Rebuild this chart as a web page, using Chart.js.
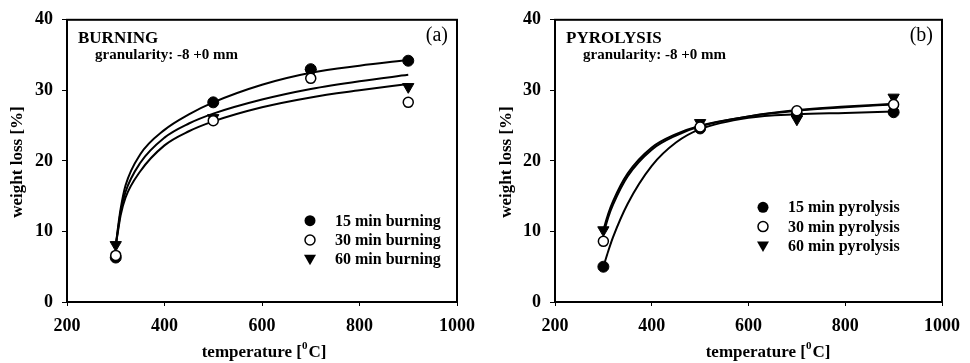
<!DOCTYPE html>
<html>
<head>
<meta charset="utf-8">
<script src="https://cdn.jsdelivr.net/npm/chart.js@4/dist/chart.umd.min.js"></script>
<style>
  body { margin: 0; background: #fff; }
  .wrap { position: relative; width: 970px; height: 363px; }
  canvas { position: absolute; top: 0; }
</style>
</head>
<body>
<div class="wrap">
  <canvas id="burn" width="485" height="363" style="left:0"></canvas>
  <canvas id="pyro" width="485" height="363" style="left:485px"></canvas>
</div>
<script>
// measured points, temperature in degC, weight loss in %
const temps = [300, 500, 700, 900];
const burn15 = [6.3, 28.3, 33.0, 34.2];
const burn30 = [6.6, 25.7, 31.7, 28.3];
const burn60 = [8.1, 26.1, 32.5, 30.5];
const pyro15 = [5.0, 24.6, 26.6, 26.9];
const pyro30 = [8.6, 24.8, 27.1, 28.0];
const pyro60 = [10.2, 25.4, 25.9, 29.0];

// trend curves
const burnFitX = [300, 305, 310, 320, 350, 400, 450, 500, 600, 700, 800, 900];
const burnFit15 = [8.0, 10.8, 13.2, 16.5, 20.9, 24.4, 26.6, 28.3, 30.8, 32.5, 33.5, 34.3];
const burnFit30 = [8.0, 10.5, 12.8, 15.6, 19.7, 23.3, 25.3, 26.7, 28.7, 30.2, 31.3, 32.2];
const burnFit60 = [8.0, 10.2, 12.3, 14.8, 18.5, 22.2, 24.2, 25.6, 27.6, 29.0, 30.0, 30.9];
const pyroFitX = [300, 310, 320, 350, 400, 450, 500, 600, 700, 800, 900];
const pyroFit15 = [5.0, 7.2, 9.2, 13.9, 19.3, 22.6, 24.5, 26.1, 26.6, 26.8, 27.0];
const pyroFit30 = [9.6, 12.0, 13.8, 17.8, 21.6, 23.6, 24.9, 26.3, 27.2, 27.7, 28.1];
const pyroFit60 = [10.2, 12.5, 14.3, 18.2, 21.9, 23.8, 25.0, 26.3, 27.1, 27.6, 28.0];

const xTicks = [200, 400, 600, 800, 1000];
const yTicks = [0, 10, 20, 30, 40];

const FONT = "'Liberation Serif', 'Times New Roman', serif";

function pts(xs, ys) {
  return xs.map((x, i) => ({ x: x, y: ys[i] }));
}

function drawMarker(ctx, kind, x, y) {
  ctx.save();
  ctx.fillStyle = '#000';
  ctx.strokeStyle = '#000';
  if (kind === 'filled') {
    ctx.beginPath(); ctx.arc(x, y, 5.5, 0, Math.PI * 2); ctx.fill();
  } else if (kind === 'open') {
    ctx.lineWidth = 1.5;
    ctx.fillStyle = '#fff';
    ctx.beginPath(); ctx.arc(x, y, 5, 0, Math.PI * 2); ctx.fill(); ctx.stroke();
  } else {
    ctx.beginPath();
    ctx.moveTo(x - 6, y - 4.5); ctx.lineTo(x + 6, y - 4.5); ctx.lineTo(x, y + 6);
    ctx.closePath(); ctx.fill();
  }
  ctx.restore();
}

const panelPlugin = {
  id: 'panel',
  afterDraw(chart, args, o) {
    const ctx = chart.ctx;
    const a = chart.chartArea;
    ctx.save();
    ctx.strokeStyle = '#000';
    ctx.lineWidth = 2;
    ctx.strokeRect(a.left, a.top, a.right - a.left, a.bottom - a.top);

    ctx.fillStyle = '#000';
    ctx.textBaseline = 'alphabetic';
    ctx.textAlign = 'left';
    ctx.font = 'bold 17px ' + FONT;
    ctx.fillText(o.title, a.left + 11, 43);
    ctx.font = 'bold 15px ' + FONT;
    ctx.fillText('granularity: -8 +0 mm', a.left + 28, 59);
    ctx.textAlign = 'right';
    ctx.font = '20px ' + FONT;
    ctx.fillText(o.tag, a.right - 9, 41);

    // legend
    ctx.textAlign = 'left';
    ctx.textBaseline = 'middle';
    ctx.font = 'bold 16px ' + FONT;
    const kinds = ['filled', 'open', 'tri'];
    o.labels.forEach((t, i) => {
      const y = o.legY + i * 19.3;
      drawMarker(ctx, kinds[i], a.left + o.legX, y);
      ctx.fillText(t, a.left + o.legX + 25, y + 1);
    });

    // x title with superscript
    ctx.textBaseline = 'alphabetic';
    ctx.font = 'bold 17px ' + FONT;
    const t1 = 'temperature [', t3 = 'C]';
    const w1 = ctx.measureText(t1).width;
    const w3 = ctx.measureText(t3).width;
    ctx.font = 'bold 11px ' + FONT;
    const w2 = ctx.measureText('0').width + 1;
    let x = o.xTitleX - (w1 + w2 + w3) / 2;
    ctx.font = 'bold 17px ' + FONT;
    ctx.fillText(t1, x, 357);
    ctx.font = 'bold 11px ' + FONT;
    ctx.fillText('0', x + w1, 349);
    ctx.font = 'bold 17px ' + FONT;
    ctx.fillText(t3, x + w1 + w2, 357);

    // y title
    ctx.translate(o.yTitleX, 162);
    ctx.rotate(-Math.PI / 2);
    ctx.textAlign = 'center';
    ctx.textBaseline = 'middle';
    ctx.fillText('weight loss [%]', 0, 0);
    ctx.restore();
  }
};

function makeChart(id, series, fits, fitX, o) {
  const styles = [
    { pointStyle: 'circle', pointRadius: 5.5, pointBackgroundColor: '#000', pointBorderWidth: 1, order: 1 },
    { pointStyle: 'circle', pointRadius: 5, pointBackgroundColor: '#fff', pointBorderWidth: 1.5, order: 0 },
    { pointStyle: 'triangle', pointRotation: 180, pointRadius: 6.5, pointBackgroundColor: '#000', pointBorderWidth: 1, order: 2 }
  ];
  const datasets = [];
  series.forEach((s, i) => {
    datasets.push(Object.assign({
      label: o.labels[i],
      data: pts(temps, s),
      showLine: false,
      pointBorderColor: '#000'
    }, styles[i]));
  });
  fits.forEach(f => {
    datasets.push({
      data: pts(fitX, f),
      showLine: true,
      pointRadius: 0,
      borderColor: '#000',
      borderWidth: 2,
      cubicInterpolationMode: 'monotone',
      fill: false,
      order: 3
    });
  });

  const tickFont = { family: FONT, size: 18, weight: 'bold' };
  return new Chart(document.getElementById(id), {
    type: 'scatter',
    data: { datasets: datasets },
    options: {
      responsive: false,
      animation: false,
      layout: { padding: { top: 17, right: o.padRight, left: 0, bottom: 0 } },
      plugins: {
        legend: { display: false },
        tooltip: { enabled: false },
        panel: o
      },
      scales: {
        x: {
          type: 'linear', min: xTicks[0], max: xTicks[xTicks.length - 1],
          afterBuildTicks: s => { s.ticks = xTicks.map(v => ({ value: v })); },
          ticks: { color: '#000', font: tickFont, padding: 10, maxRotation: 0, callback: v => String(v) },
          grid: { drawOnChartArea: false, drawTicks: true, tickLength: 4, color: '#000' },
          border: { color: '#000', width: 2 },
          afterFit: s => { s.height = 61; }
        },
        y: {
          min: yTicks[0], max: yTicks[yTicks.length - 1],
          afterBuildTicks: s => { s.ticks = yTicks.map(v => ({ value: v })); },
          ticks: { color: '#000', font: tickFont, padding: 9, callback: v => String(v) },
          grid: { drawOnChartArea: false, drawTicks: true, tickLength: 5, color: '#000' },
          border: { color: '#000', width: 2 },
          afterFit: s => { s.width = o.yWidth; }
        }
      }
    },
    plugins: [panelPlugin]
  });
}

makeChart('burn', [burn15, burn30, burn60], [burnFit15, burnFit30, burnFit60], burnFitX, {
  title: 'BURNING', tag: '(a)',
  labels: ['15 min burning', '30 min burning', '60 min burning'],
  legX: 243, legY: 220.7, xTitleX: 264, yTitleX: 18, yWidth: 67, padRight: 23
});
makeChart('pyro', [pyro15, pyro30, pyro60], [pyroFit15, pyroFit30, pyroFit60], pyroFitX, {
  title: 'PYROLYSIS', tag: '(b)',
  labels: ['15 min pyrolysis', '30 min pyrolysis', '60 min pyrolysis'],
  legX: 208, legY: 207.3, xTitleX: 283, yTitleX: 21.7, yWidth: 70, padRight: 19
});
</script>
</body>
</html>
